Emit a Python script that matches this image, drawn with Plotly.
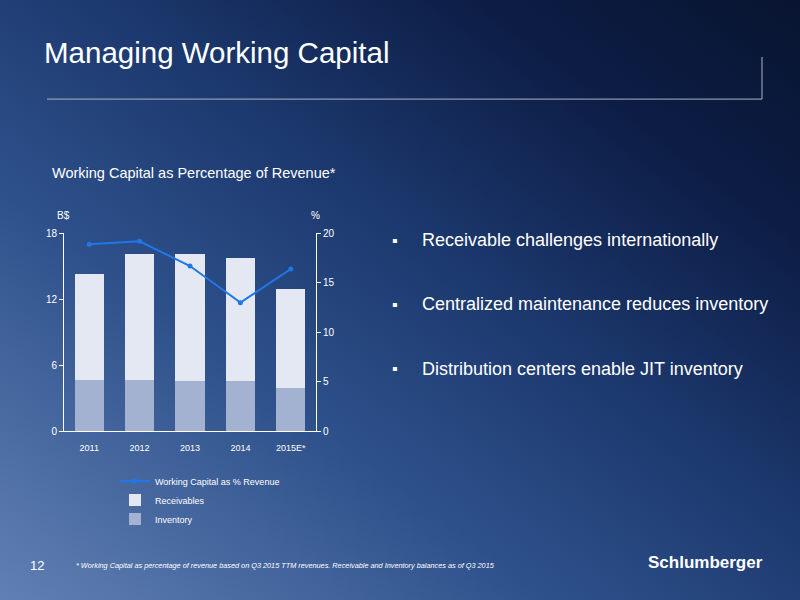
import base64
import plotly.graph_objects as go

# chart data
years = ["2011", "2012", "2013", "2014", "2015E*"]
inventory = [4.7, 4.7, 4.6, 4.6, 3.9]            # B$
receivables = [9.6, 11.4, 11.5, 11.2, 9.0]       # B$, stacked on inventory
wc_pct_revenue = [18.9, 19.2, 16.7, 13.0, 16.4]  # %

bullets = [
    "Receivable challenges internationally",
    "Centralized maintenance reduces inventory",
    "Distribution centers enable JIT inventory",
]

W, H = 800, 600
SANS = "Liberation Sans, Arial"


def px(x):
    return x / W


def py(y):
    return 1 - y / H


# slide background gradient as an inline svg image
svg = (
    '<svg xmlns="http://www.w3.org/2000/svg" width="800" height="600" '
    'viewBox="0 0 800 600" preserveAspectRatio="none">'
    '<defs><linearGradient id="g" x1="0" y1="1" x2="1" y2="0">'
    '<stop offset="0" stop-color="#6282b6"/>'
    '<stop offset="0.35" stop-color="#2e508a"/>'
    '<stop offset="0.55" stop-color="#1d3a70"/>'
    '<stop offset="0.8" stop-color="#0c1c44"/>'
    '<stop offset="1" stop-color="#08142f"/>'
    '</linearGradient></defs>'
    '<rect width="800" height="600" fill="url(#g)"/></svg>'
)
bg_src = "data:image/svg+xml;base64," + base64.b64encode(svg.encode()).decode()

fig = go.Figure()

fig.add_trace(go.Scatter(x=years, y=wc_pct_revenue, yaxis="y2",
                         name="Working Capital as % Revenue",
                         mode="lines+markers",
                         line=dict(color="#2176e8", width=2),
                         marker=dict(color="#2176e8", size=5),
                         legendrank=1))
fig.add_trace(go.Bar(x=years, y=inventory, name="Inventory",
                     marker=dict(color="#a2b2d0", line=dict(width=0)),
                     legendrank=3))
fig.add_trace(go.Bar(x=years, y=receivables, name="Receivables",
                     marker=dict(color="#e3e8f2", line=dict(width=0)),
                     legendrank=2))

axis_font = dict(family=SANS, size=10, color="#ffffff")

fig.update_layout(
    width=W, height=H,
    margin=dict(l=0, r=0, t=0, b=0),
    paper_bgcolor="#1a3466",
    plot_bgcolor="rgba(0,0,0,0)",
    barmode="stack",
    bargap=0.42,
    xaxis=dict(domain=[px(64), px(316)], showgrid=False, zeroline=False,
               showline=True, linecolor="#ffffff", linewidth=1,
               ticks="outside", ticklen=8, tickcolor="rgba(0,0,0,0)",
               tickfont=dict(family=SANS, size=9, color="#ffffff"),
               fixedrange=True),
    yaxis=dict(domain=[py(434), py(232)], range=[0, 18], tickvals=[0, 6, 12, 18],
               showgrid=False, zeroline=False, showline=True,
               linecolor="#ffffff", linewidth=1, ticks="outside",
               ticklen=4, tickcolor="#ffffff", tickfont=axis_font),
    yaxis2=dict(overlaying="y", side="right", range=[0, 20], dtick=5,
                showgrid=False, zeroline=False, showline=True,
                linecolor="#ffffff", linewidth=1, ticks="outside",
                ticklen=4, tickcolor="#ffffff", tickfont=axis_font),
    legend=dict(x=px(115), y=py(470), xanchor="left", yanchor="top",
                traceorder="normal",
                bgcolor="rgba(0,0,0,0)", font=dict(family=SANS, size=9, color="#ffffff"),
                itemwidth=30, tracegroupgap=0),
    showlegend=True,
    images=[dict(source=bg_src, xref="paper", yref="paper", x=-0.01, y=1.02,
                 sizex=1.02, sizey=1.04, xanchor="left", yanchor="top",
                 sizing="stretch", layer="below")],
)

# title rule lines
fig.add_shape(type="line", xref="paper", yref="paper",
              x0=px(47), y0=py(95), x1=px(762), y1=py(95),
              line=dict(color="#aab4c6", width=1))
fig.add_shape(type="line", xref="paper", yref="paper",
              x0=px(762), y0=py(52), x1=px(762), y1=py(95),
              line=dict(color="#aab4c6", width=1))


def text(x, y, s, size, anchor="left", family=SANS, color="#ffffff"):
    fig.add_annotation(x=px(x), y=py(y), xref="paper", yref="paper",
                       text=s, showarrow=False, xanchor=anchor, yanchor="middle",
                       font=dict(family=family, size=size, color=color))


text(42, 47, "Managing Working Capital", 29.5)
text(50, 170, "Working Capital as Percentage of Revenue*", 14.5)
text(55, 214, "B$", 10)
text(309, 214, "%", 10)

for i, b in enumerate(bullets):
    y = 239 + i * 65.5
    text(390, y, "\u25aa", 16)
    text(420, y, b, 18)

text(28, 571, "12", 13)
text(74, 571, "<i>* Working Capital as percentage of revenue based on Q3 2015 TTM revenues. "
     "Receivable and Inventory balances as of Q3 2015</i>", 7.3)
text(705, 568, "<b>Schlumberger</b>", 17, anchor="center")

fig.write_html("out.html", config={"displayModeBar": False},
               post_script="document.body.style.margin='0';"
                           "document.documentElement.style.overflow='hidden';")
